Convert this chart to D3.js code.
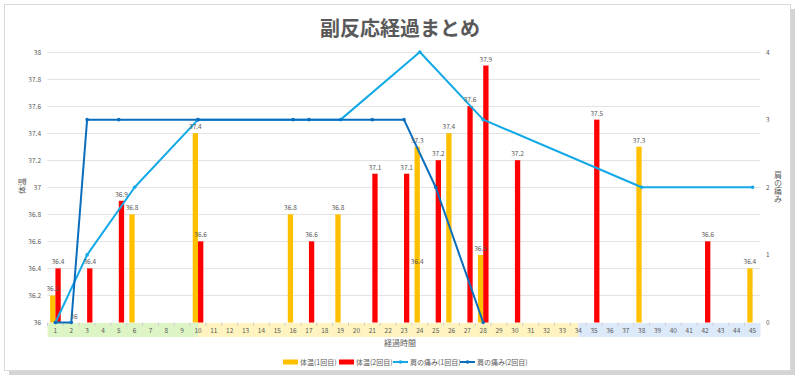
<!DOCTYPE html>
<html>
<head>
<meta charset="utf-8">
<script src="https://cdn.jsdelivr.net/npm/d3@7"></script>
<style>
  body { margin: 0; background: #fff; }
  svg { font-family: "Noto Sans CJK JP", "Noto Sans", sans-serif; }
</style>
</head>
<body>
<script>
var width = 800, height = 380

// 経過時間 1..45
var categories = d3.range(1, 46)
// 体温(1回目) / 体温(2回目): [経過時間, 値]
var temp1 = [[1, 36.2], [6, 36.8], [10, 37.4], [16, 36.8], [19, 36.8], [24, 37.3], [26, 37.4], [28, 36.5], [38, 37.3], [45, 36.4]]
var temp2 = [[1, 36.4], [2, 36], [3, 36.4], [5, 36.9], [10, 36.6], [17, 36.6], [21, 37.1], [23, 37.1], [25, 37.2], [27, 37.6], [28, 37.9], [30, 37.2], [35, 37.5], [42, 36.6]]
// ラベルだけ残っている点
var strayLabels = [[24, 36.4]]
// 肩の痛み(1回目) / 肩の痛み(2回目)
var pain1 = [[1, 0], [3, 1], [6, 2], [10, 3], [19, 3], [24, 4], [28, 3], [38, 2], [45, 2]]
var pain2 = [[1, 0], [2, 0], [3, 3], [5, 3], [10, 3], [16, 3], [17, 3], [21, 3], [23, 3], [25, 2], [28, 0]]
var leftTicks = d3.range(36, 38.01, 0.2)
var rightTicks = [0, 1, 2, 3, 4]
var bands = [{from: 1, to: 10, color: "#DDF5C5"}, {from: 10, to: 34, color: "#FFF4BF"}, {from: 34, to: 45, color: "#DCE9F8"}]

var gray = "#595959"
var margin = {left: 47.5, right: 39.5, top: 52, bottom: 57.5}

var svg = d3.select("body").append("svg")
    .attr("width", width)
    .attr("height", height)

// 枠と影
svg.append("rect")
    .attr("x", 9).attr("y", 9).attr("width", 786).attr("height", 366)
    .attr("fill", "#D4D4D4")
svg.append("rect")
    .attr("x", 4.5).attr("y", 4.5).attr("width", 786).attr("height", 366)
    .attr("fill", "#fff").attr("stroke", "#D9D9D9")

var x = d3.scaleBand()
    .domain(categories)
    .range([margin.left, width - margin.right])
    .paddingInner(0.33)
    .paddingOuter(0.165)

var xSub = d3.scaleBand()
    .domain(["t1", "t2"])
    .range([0, x.bandwidth()])

var y = d3.scaleLinear()
    .domain([36, 38])
    .range([height - margin.bottom, margin.top])

var y2 = d3.scaleLinear()
    .domain([0, 4])
    .range([height - margin.bottom, margin.top])

function cx(c) { return x(c) + x.bandwidth() / 2 }

// タイトル
svg.append("text")
    .attr("x", 400).attr("y", 36)
    .attr("text-anchor", "middle")
    .attr("font-size", 20)
    .attr("font-weight", "bold")
    .attr("fill", gray)
    .text("副反応経過まとめ")

// グリッド
svg.append("g")
  .selectAll("line")
  .data(leftTicks)
  .enter().append("line")
    .attr("x1", margin.left).attr("x2", width - margin.right)
    .attr("y1", function(d) { return Math.round(y(d)) + 0.5 })
    .attr("y2", function(d) { return Math.round(y(d)) + 0.5 })
    .attr("stroke", "#E3E3E3")

// 左軸
svg.append("g")
  .selectAll("text")
  .data(leftTicks)
  .enter().append("text")
    .attr("x", 41).attr("y", function(d) { return y(d) + 2.5 })
    .attr("text-anchor", "end")
    .attr("font-size", 6.5)
    .attr("fill", gray)
    .text(function(d) { return +d.toFixed(1) })

// 右軸
svg.append("g")
  .selectAll("text")
  .data(rightTicks)
  .enter().append("text")
    .attr("x", 766).attr("y", function(d) { return y2(d) + 2.5 })
    .attr("font-size", 6.5)
    .attr("fill", gray)
    .text(function(d) { return d })

// 軸タイトル
svg.append("text")
    .attr("transform", "translate(25,186) rotate(-90)")
    .attr("text-anchor", "middle")
    .attr("font-size", 8)
    .attr("fill", gray)
    .text("体温")
svg.append("text")
    .attr("x", 778).attr("y", 187)
    .style("writing-mode", "vertical-rl")
    .attr("text-anchor", "middle")
    .attr("font-size", 8)
    .attr("fill", gray)
    .text("肩の痛み")
svg.append("text")
    .attr("x", 400).attr("y", 346)
    .attr("text-anchor", "middle")
    .attr("font-size", 8)
    .attr("fill", gray)
    .text("経過時間")

// カテゴリ背景
var base = y(36)
svg.append("g")
  .selectAll("rect")
  .data(bands)
  .enter().append("rect")
    .attr("x", function(d) { return d.from === 1 ? margin.left : cx(d.from) })
    .attr("width", function(d) {
        var a = d.from === 1 ? margin.left : cx(d.from)
        var b = d.to === 45 ? width - margin.right : cx(d.to)
        return b - a
    })
    .attr("y", base + 0.5).attr("height", 14)
    .attr("fill", function(d) { return d.color })

svg.append("g")
  .selectAll("line")
  .data(categories)
  .enter().append("line")
    .attr("x1", function(d) { return x(d) - x.step() * x.paddingInner() / 2 })
    .attr("x2", function(d) { return x(d) - x.step() * x.paddingInner() / 2 })
    .attr("y1", base).attr("y2", base + 3.5)
    .attr("stroke", "#D0D0D0")

svg.append("g")
  .selectAll("text")
  .data(categories)
  .enter().append("text")
    .attr("x", cx).attr("y", base + 10)
    .attr("text-anchor", "middle")
    .attr("font-size", 6.5)
    .attr("fill", gray)
    .text(function(d) { return d })

// 棒
function drawBars(data, key, color) {
    var g = svg.append("g")
    g.selectAll("rect")
      .data(data)
      .enter().append("rect")
        .attr("x", function(d) { return x(d[0]) + xSub(key) })
        .attr("width", xSub.bandwidth())
        .attr("y", function(d) { return y(d[1]) })
        .attr("height", function(d) { return y(36) - y(d[1]) })
        .attr("fill", color)
}
drawBars(temp1, "t1", "#FFC000")
drawBars(temp2, "t2", "#FF0000")

// 線
function drawLine(data, color) {
    var line = d3.line()
        .x(function(d) { return cx(d[0]) })
        .y(function(d) { return y2(d[1]) })
    var g = svg.append("g")
    g.append("path")
        .datum(data)
        .attr("d", line)
        .attr("fill", "none")
        .attr("stroke", color)
        .attr("stroke-width", 2)
        .attr("stroke-linejoin", "round")
    g.selectAll("circle")
      .data(data)
      .enter().append("circle")
        .attr("cx", function(d) { return cx(d[0]) })
        .attr("cy", function(d) { return y2(d[1]) })
        .attr("r", 1.8)
        .attr("fill", color)
}
drawLine(pain1, "#12A9E6")
drawLine(pain2, "#0A6EBD")

// データラベル
function drawLabels(data, key) {
    svg.append("g")
      .selectAll("text")
      .data(data)
      .enter().append("text")
        .attr("x", function(d) { return x(d[0]) + xSub(key) + xSub.bandwidth() / 2 })
        .attr("y", function(d) { return y(d[1]) - 4 })
        .attr("text-anchor", "middle")
        .attr("font-size", 6.5)
        .attr("fill", gray)
        .text(function(d) { return d[1] })
}
drawLabels(temp1, "t1")
drawLabels(temp2, "t2")
drawLabels(strayLabels, "t1")

// 凡例
var legend = [
    {name: "体温(1回目)", color: "#FFC000", type: "rect", x: 283},
    {name: "体温(2回目)", color: "#FF0000", type: "rect", x: 339},
    {name: "肩の痛み(1回目)", color: "#12A9E6", type: "line", x: 393},
    {name: "肩の痛み(2回目)", color: "#0A6EBD", type: "line", x: 460}
]
var lg = svg.append("g").attr("transform", "translate(0,362)")
    .selectAll("g")
    .data(legend)
    .enter().append("g")
    .attr("transform", function(d) { return "translate(" + d.x + ",0)" })
lg.filter(function(d) { return d.type === "rect" }).append("rect")
    .attr("x", 0).attr("y", -2.5).attr("width", 15).attr("height", 5)
    .attr("fill", function(d) { return d.color })
lg.filter(function(d) { return d.type === "line" }).append("line")
    .attr("x1", 0).attr("x2", 15).attr("y1", 0).attr("y2", 0)
    .attr("stroke", function(d) { return d.color })
    .attr("stroke-width", 2)
lg.filter(function(d) { return d.type === "line" }).append("circle")
    .attr("cx", 7.5).attr("cy", 0).attr("r", 1.8)
    .attr("fill", function(d) { return d.color })
lg.append("text")
    .attr("x", 17).attr("y", 2.5)
    .attr("font-size", 7)
    .attr("fill", gray)
    .text(function(d) { return d.name })
</script>
</body>
</html>
